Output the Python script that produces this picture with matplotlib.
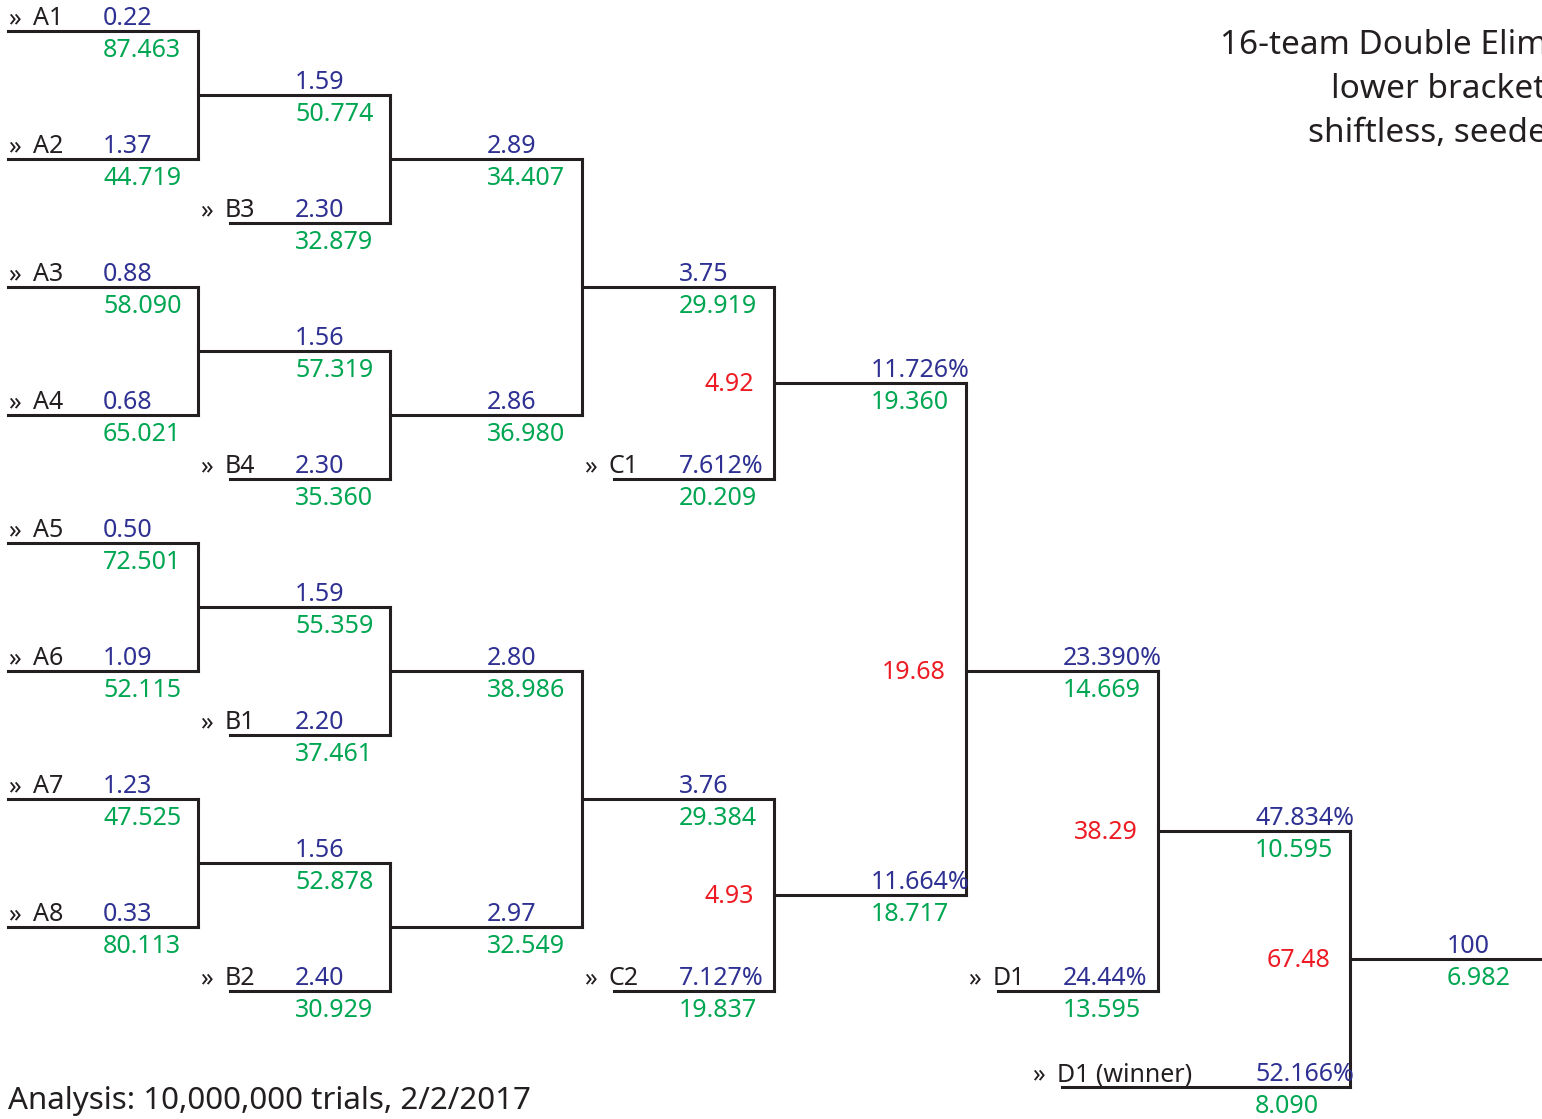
import matplotlib.pyplot as plt

plt.rcParams['font.family'] = ['Noto Sans', 'DejaVu Sans']

# ---- data ----
a_teams = ["A1", "A2", "A3", "A4", "A5", "A6", "A7", "A8"]
a_blue = ["0.22", "1.37", "0.88", "0.68", "0.50", "1.09", "1.23", "0.33"]
a_green = ["87.463", "44.719", "58.090", "65.021", "72.501", "52.115", "47.525", "80.113"]

r1_blue = ["1.59", "1.56", "1.59", "1.56"]
r1_green = ["50.774", "57.319", "55.359", "52.878"]
b_teams = ["B3", "B4", "B1", "B2"]
b_blue = ["2.30", "2.30", "2.20", "2.40"]
b_green = ["32.879", "35.360", "37.461", "30.929"]

r2_blue = ["2.89", "2.86", "2.80", "2.97"]
r2_green = ["34.407", "36.980", "38.986", "32.549"]

r3_blue = ["3.75", "3.76"]
r3_green = ["29.919", "29.384"]
c_teams = ["C1", "C2"]
c_blue = ["7.612%", "7.127%"]
c_green = ["20.209", "19.837"]

r4_blue = ["11.726%", "11.664%"]
r4_green = ["19.360", "18.717"]
r4_red = ["4.92", "4.93"]

r5_blue, r5_green, r5_red = "23.390%", "14.669", "19.68"
d_team, d_blue, d_green = "D1", "24.44%", "13.595"

r6_blue, r6_green, r6_red = "47.834%", "10.595", "38.29"
dw_team, dw_blue, dw_green = "D1 (winner)", "52.166%", "8.090"

r7_blue, r7_green, r7_red = "100", "6.982", "67.48"

title_lines = ["16-team Double Elimination", "lower bracket", "shiftless, seeded"]
footer = "Analysis: 10,000,000 trials, 2/2/2017"

# ---- style / layout ----
BLUE = "#2e3192"
GREEN = "#00a651"
RED = "#ed1c24"
INK = "#231f20"
FS = 18

W, H = 1542, 1119
COL = 192      # column width in px
X0 = 6
ROW = 32       # half-slot height in px
Y0 = 31

fig = plt.figure(figsize=(W / 100, H / 100), dpi=100)
ax = fig.add_axes([0, 0, 1, 1])
ax.set_xlim(0, W)
ax.set_ylim(H, 0)
ax.axis("off")


def cx(c):
    return X0 + COL * c


def ry(r):
    return Y0 + ROW * r


def seg(col, row, blue, green, team=None, start=None):
    y = ry(row)
    xs = cx(col) if start is None else start
    ax.plot([max(xs, 8), cx(col + 1)], [y, y], color=INK, lw=2.2, solid_capstyle="projecting")
    ax.text(cx(col) + 97, y - 6, blue, color=BLUE, fontsize=FS, va="baseline")
    ax.text(cx(col) + 97, y + 26, green, color=GREEN, fontsize=FS, va="baseline")
    if team is not None:
        lx = max(xs - 30, 8)
        ax.text(lx, y - 6, "\u00bb", color=INK, fontsize=FS, va="baseline")
        ax.text(lx + 25, y - 6, team, color=INK, fontsize=FS, va="baseline")
    return row


def join(col, r1, r2, red=None, out=None):
    x = cx(col)
    ax.plot([x, x], [ry(r1), ry(r2)], color=INK, lw=2.2, solid_capstyle="projecting")
    if red is not None:
        ax.text(x - 20, ry(out) + 8, red, color=RED, fontsize=FS, ha="right", va="baseline")


# round 0: A entrants
a_rows = [seg(0, 4 * i, a_blue[i], a_green[i], team=a_teams[i]) for i in range(8)]

# round 1: A winners vs B entrants
r2_in = []
for i in range(4):
    top, bot = a_rows[2 * i], a_rows[2 * i + 1]
    join(1, top, bot)
    w = seg(1, (top + bot) / 2, r1_blue[i], r1_green[i])
    b = seg(1, w + 4, b_blue[i], b_green[i], team=b_teams[i], start=cx(1) + 32)
    join(2, w, b)
    r2_in.append(seg(2, (w + b) / 2, r2_blue[i], r2_green[i]))

# round 3: vs C entrants
r4_rows = []
for i in range(2):
    top, bot = r2_in[2 * i], r2_in[2 * i + 1]
    join(3, top, bot)
    w = seg(3, (top + bot) / 2, r3_blue[i], r3_green[i])
    c = seg(3, w + 6, c_blue[i], c_green[i], team=c_teams[i], start=cx(3) + 32)
    out = (w + c) / 2
    join(4, w, c, red=r4_red[i], out=out)
    r4_rows.append(seg(4, out, r4_blue[i], r4_green[i]))

# round 5: semifinal
out5 = 20
join(5, r4_rows[0], r4_rows[1], red=r5_red, out=out5)
seg(5, out5, r5_blue, r5_green)
d_row = seg(5, 30, d_blue, d_green, team=d_team, start=cx(5) + 32)

# round 6
out6 = (out5 + d_row) / 2
join(6, out5, d_row, red=r6_red, out=out6)
seg(6, out6, r6_blue, r6_green)
dw_row = seg(6, 33, dw_blue, dw_green, team=dw_team, start=cx(6) - 96)

# round 7
out7 = (out6 + dw_row) / 2
join(7, out6, dw_row, red=r7_red, out=out7)
seg(7, out7, r7_blue, r7_green)

# title (runs off the right edge, as in the original) and footer
for i, t in enumerate(title_lines):
    ax.text(1438, 45 + 44.5 * i, t, color=INK, fontsize=24, ha="center", va="center")
ax.text(8, 1109, footer, color=INK, fontsize=22.5, va="baseline")

fig.savefig("out.png", dpi=100)
